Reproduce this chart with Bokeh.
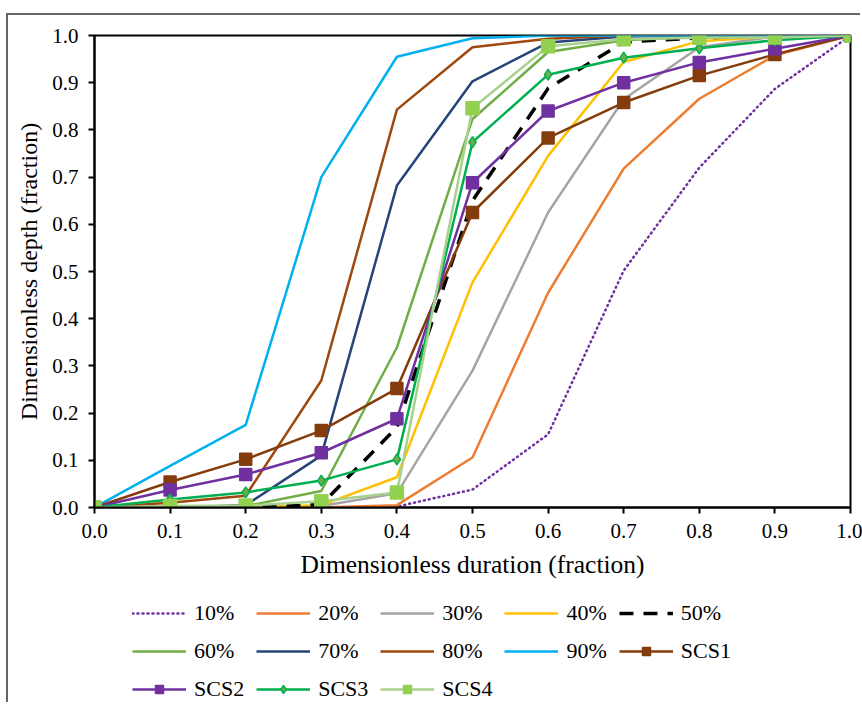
from bokeh.plotting import figure
from bokeh.models import Legend, LegendItem, FixedTicker, NumeralTickFormatter
from bokeh.layouts import column
from bokeh.embed import file_html
from bokeh.resources import INLINE

x = [0.0, 0.1, 0.2, 0.3, 0.4, 0.5, 0.6, 0.7, 0.8, 0.9, 1.0]

p10 = [0.0, 0.0, 0.0, 0.0, 0.002, 0.038, 0.155, 0.502, 0.72, 0.887, 1.0]
p20 = [0.0, 0.0, 0.0, 0.0, 0.005, 0.106, 0.455, 0.718, 0.866, 0.958, 1.0]
p30 = [0.0, 0.0, 0.0, 0.003, 0.03, 0.29, 0.625, 0.865, 0.975, 0.998, 1.0]
p40 = [0.0, 0.0, 0.0, 0.005, 0.064, 0.477, 0.745, 0.944, 0.988, 0.998, 1.0]
p50 = [0.0, 0.0, 0.0, 0.006, 0.17, 0.65, 0.888, 0.986, 0.995, 1.0, 1.0]
p60 = [0.0, 0.0, 0.003, 0.035, 0.339, 0.823, 0.965, 0.99, 0.998, 1.0, 1.0]
p70 = [0.0, 0.0, 0.005, 0.11, 0.682, 0.903, 0.985, 0.998, 1.0, 1.0, 1.0]
p80 = [0.0, 0.01, 0.025, 0.269, 0.843, 0.975, 0.993, 1.0, 1.0, 1.0, 1.0]
p90 = [0.0, 0.088, 0.175, 0.70, 0.955, 0.994, 1.0, 1.0, 1.0, 1.0, 1.0]
scs1 = [0.0, 0.054, 0.102, 0.163, 0.252, 0.625, 0.783, 0.858, 0.915, 0.96, 1.0]
scs2 = [0.0, 0.037, 0.07, 0.116, 0.188, 0.688, 0.84, 0.90, 0.943, 0.972, 1.0]
scs3 = [0.0, 0.017, 0.032, 0.057, 0.102, 0.774, 0.917, 0.953, 0.973, 0.99, 1.0]
scs4 = [0.0, 0.003, 0.004, 0.013, 0.032, 0.846, 0.977, 0.992, 0.995, 0.996, 1.0]

ticks = [0.0, 0.1, 0.2, 0.3, 0.4, 0.5, 0.6, 0.7, 0.8, 0.9, 1.0]

FONT = "Liberation Serif"

# ---------------- main chart ----------------
p = figure(width=854, height=577, output_backend="svg", toolbar_location=None,
           x_range=(0, 1), y_range=(0, 1),
           min_border_left=86, min_border_right=12, min_border_top=20, min_border_bottom=85)
p.background_fill_color = "white"
p.border_fill_color = "white"
p.outline_line_color = "black"
p.outline_line_width = 2
p.xgrid.visible = False
p.ygrid.visible = False

for ax in (p.xaxis[0], p.yaxis[0]):
    ax.ticker = FixedTicker(ticks=ticks)
    ax.formatter = NumeralTickFormatter(format="0.0")
    ax.axis_line_color = "black"
    ax.axis_line_width = 2
    ax.major_tick_line_color = "black"
    ax.major_tick_line_width = 2
    ax.major_tick_out = 6
    ax.major_tick_in = 0
    ax.minor_tick_line_color = None
    ax.major_label_text_font = FONT
    ax.major_label_text_font_size = "21px"
    ax.major_label_text_color = "black"
    ax.axis_label_text_font = FONT
    ax.axis_label_text_font_style = "normal"
    ax.axis_label_text_color = "black"

p.xaxis.axis_label = "Dimensionless duration (fraction)"
p.xaxis.axis_label_text_font_size = "25.5px"
p.xaxis.major_label_standoff = 10
p.xaxis.axis_label_standoff = 9
p.yaxis.axis_label = "Dimensionless depth (fraction)"
p.yaxis.axis_label_text_font_size = "24px"
p.yaxis.major_label_standoff = 10
p.yaxis.axis_label_standoff = 7

# ---------------- legend strip (legend keys come from off-view copies) ----------------
p2 = figure(width=854, height=112, output_backend="svg", toolbar_location=None,
            x_range=(5, 6), y_range=(5, 6), x_axis_type=None, y_axis_type=None,
            min_border=0, min_border_left=86, min_border_right=12,
            min_border_top=0, min_border_bottom=0)
p2.outline_line_color = None
p2.xgrid.visible = False
p2.ygrid.visible = False
p2.background_fill_color = "white"
p2.border_fill_color = "white"

items = []
def add_line(y, color, label, dash="solid", width=2.5, cap="butt"):
    kw = dict(line_color=color, line_width=width, line_dash=dash, line_cap=cap)
    p.line(x, y, **kw)
    r = p2.line(x, y, **kw)
    items.append(LegendItem(label=label, renderers=[r]))

add_line(p10, "#7030A0", "10%", dash="1 4", width=2.5, cap="round")
add_line(p20, "#ED7D31", "20%")
add_line(p30, "#A5A5A5", "30%")
add_line(p40, "#FFC000", "40%")
add_line(p50, "black", "50%", dash="14 10", width=3.5)
add_line(p60, "#70AD47", "60%")
add_line(p70, "#264478", "70%")
add_line(p80, "#9E480E", "80%")
add_line(p90, "#00B0F0", "90%")

def add_marked(y, lcolor, mcolor, label, marker, size, mline=None):
    lkw = dict(line_color=lcolor, line_width=2.5)
    mkw = dict(marker=marker, size=size, fill_color=mcolor,
               line_color=mline or mcolor, line_width=1.5)
    p.line(x, y, **lkw)
    p.scatter(x, y, **mkw)
    r1 = p2.line(x, y, **lkw)
    r2 = p2.scatter(x, y, **mkw)
    items.append(LegendItem(label=label, renderers=[r1, r2]))

add_marked(scs1, "#843C0C", "#843C0C", "SCS1", "square", 12)
add_marked(scs2, "#7030A0", "#7030A0", "SCS2", "square", 12)
add_marked(scs3, "#00B050", "#70AD47", "SCS3", "diamond", 11, mline="#00B050")
add_marked(scs4, "#A9D18E", "#92D050", "SCS4", "square", 13)

legend = Legend(items=items, orientation="horizontal", ncols=5, location=(38, 2))
legend.label_text_font = FONT
legend.label_text_font_size = "22px"
legend.label_text_color = "black"
legend.glyph_width = 54
legend.glyph_height = 20
legend.label_standoff = 8
legend.spacing = 12
legend.padding = 0
legend.margin = 0
legend.border_line_color = None
legend.background_fill_alpha = 0
p2.add_layout(legend, "center")

layout = column(p, p2, spacing=0)
layout.styles = {"margin-top": "15px", "margin-left": "8px",
                 "box-shadow": "-2px -2px 0px 0px #666666"}

open("out.html", "w").write(file_html(layout, INLINE))
